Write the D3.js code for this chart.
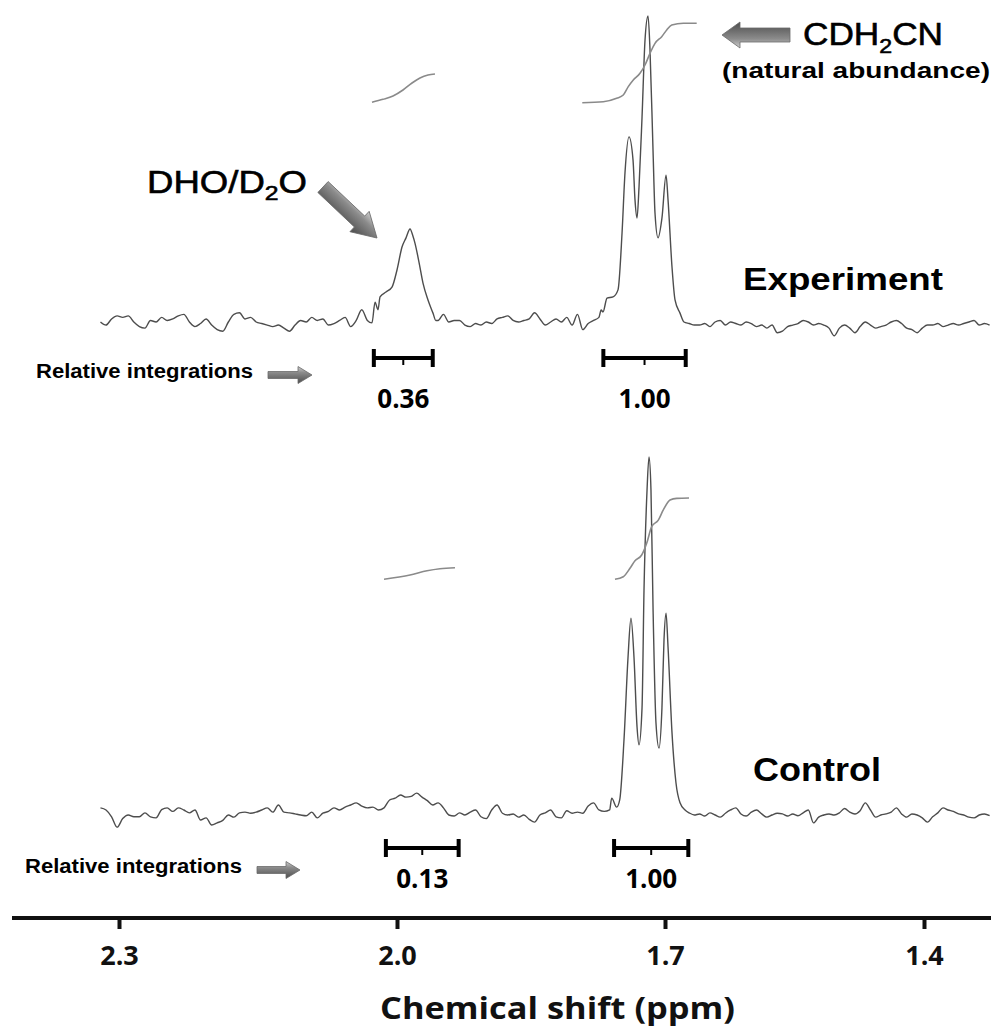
<!DOCTYPE html>
<html>
<head>
<meta charset="utf-8">
<script src="https://cdn.jsdelivr.net/npm/d3@7"></script>
<style>
  body { margin: 0; background: #fff; }
  svg { display: block; }
</style>
</head>
<body>
<script>
// ppm grid of the raw baseline traces
var ppmStart = 2.32, ppmStep = 0.006;

var axisTicks = [2.3, 2.0, 1.7, 1.4];

// experiment baseline (intensity, tallest peak = 100)
var expNoise = [0, -1, 1, 2, 1.5, 2, 0, -1.5, -2, 0.5, 0, 1.5, 0.5, 1, 2, 2.5, 0, -1.5, -0.5, 1,
  -1, -2.5, -3, 0, 2.5, 3, 1, 1.5, 0, -0.5, -1, -1.5, -1, -2, -3, -1, 0.5, 0, 1.5, 0.5,
  1, -1, -0.5, 0.5, 1.5, -1.5, 0.5, 4, 0.5, 0, 0, 0, 0, 0, 0, 0, 0, 0, 0, 0,
  0, 0.5, 2.5, 0, 0.5, 0.5, -1, -1.5, -0.5, -1, 0, -0.5, 1, 1.5, 2, 0.5, 0, 0.5, 1, 3,
  1, -1, 0, 1, 0, 1.5, -1, 2.5, -2.5, -0.5, 0.5, 1.5, 0, 0, 0, 0, 0, 0, 0, 0,
  0, 0, 0, 0, 0, 0, 0, 0, -0.5, -1, -1, -0.5, -1.5, 0, 0.5, -1, 0, -0.5, -1, 0,
  -0.5, -1.5, -1, -2, -1, -3.5, -3, -1.5, -1, -0.5, 0.5, 0, -1, -0.5, -1, -2, -4.5, -2, -1, -2,
  -3.5, -1.5, 0, -1, -2, -1.5, -1, 0, 0.5, -0.5, -2, -2.5, -3.5, -2, -1, -1, -0.5, -1.5, -1, -0.5,
  -1, -0.5, 0, 0.5, -1, -0.5, -1];

var expDHO = [[2.027, -0.3], [2.0237, 6.5], [2.0205, 4], [2.0183, 8.2], [2.0119, 9.8], [2.0054, 11.4],
  [2.0, 17], [1.9944, 24.5], [1.9899, 27.5], [1.9854, 30.4], [1.9821, 28], [1.9799, 25.8],
  [1.9754, 19.6], [1.9709, 12.7], [1.9653, 7.2], [1.9597, 2.9], [1.9565, 0.5]];

var expCDH2CN = [[1.7715, 3.9], [1.7694, 3.3], [1.7649, 7.8], [1.7582, 8.2], [1.7526, 10.5], [1.7481, 29],
  [1.7448, 48.7], [1.7403, 60.5], [1.7358, 53], [1.7336, 40], [1.7313, 34], [1.7291, 44],
  [1.7257, 67], [1.7224, 92], [1.7190, 100], [1.7168, 89], [1.7134, 56], [1.7112, 35.6],
  [1.7078, 27.5], [1.7034, 34], [1.6988, 48], [1.6965, 40], [1.6919, 18], [1.6884, 7.2], [1.6826, 2.9]];

// control baseline
var ctlNoise = [2, 1.4, -0.5, -3.4, -1, 0, -0.5, -0.5, 0.6, -0.5, -0.8, 1.5, 2, 1, 2, 1.4, 0.6, 1.4, -1.4, -0.8,
  -2.8, -2.2, -1.5, 0, -0.6, 0.6, 0.8, 0.5, 0.8, 1.4, 2, 0.8, 2.8, 0.8, 0.6, 0.3, 0, -0.2, 0.8, -0.8,
  0.5, 1, 2, 1.4, 2.2, 2.8, 3.4, 2.5, 2, 2.2, 1.4, 2, 4.2, 4.7, 5.6, 5, 5.2, 6.1, 5, 4,
  2.8, 3.4, 2, 0, -0.3, 0.6, 0, 0.8, 1.4, -0.5, -1, 1.4, 2.8, 0.5, 0, 0.3, -0.6, 0, -1.2, -2,
  0, 0.6, 1.4, -0.5, -0.8, 1.2, 0.5, 0.8, 0.5, 2.5, 3.4, 1.4, 1, 1.4, 0, 0, 0, 0, 0, 0,
  0, 0, 0, 0, 0, 0, 0, 0, 0.6, 0, 0.3, -0.3, 0.6, 0, -0.6, 0.5, 1.4, 2, 0.3, -0.3,
  0.8, 1.4, 0.3, -0.6, 0, 0.5, 0.3, -0.3, 0.3, -0.2, 0.6, 1.4, -2.2, -0.6, 0, 0.3, 0, 0.6, 1.8, 0.8,
  0.3, 1.2, 3.4, 1.4, -0.6, 0, 0.3, 0.8, 2, 0.3, -0.6, 0.3, 0, -0.8, -2, -0.5, 0.6, 2, 1.4, 1,
  0.3, 0, -0.6, -0.8, 0, 0.3, -0.2];

var ctlCDH2CN = [[1.7597, 4.7], [1.7541, 2.2], [1.7507, 4.2], [1.7459, 21], [1.7414, 44], [1.7381, 55],
  [1.7347, 44], [1.7313, 24.6], [1.7291, 19.6], [1.7257, 30], [1.7235, 62.8], [1.7201, 90.8],
  [1.7179, 100], [1.7157, 90.8], [1.7134, 58], [1.7101, 25.7], [1.7067, 18.7], [1.7034, 30],
  [1.7011, 49], [1.6988, 56.4], [1.6965, 47], [1.6919, 23], [1.6873, 9], [1.6826, 3.4], [1.6768, 1.4]];

// integral curves (fraction of the CDH2CN integral)
var expIntDHO = [[2.027, 0.01], [2.0151, 0.046], [2.0043, 0.0875], [1.9933, 0.1625], [1.9832, 0.25],
  [1.9743, 0.3125], [1.9653, 0.35], [1.9575, 0.3625]];
var expIntCDH2CN = [[1.7926, 0.004], [1.7691, 0.016], [1.7541, 0.059], [1.7467, 0.1], [1.7411, 0.204],
  [1.7355, 0.2875], [1.7280, 0.371], [1.7224, 0.475], [1.7168, 0.621], [1.7112, 0.746],
  [1.7037, 0.829], [1.6980, 0.9125], [1.6922, 0.975], [1.6788, 0.996], [1.6633, 0.996]];
var ctlIntDHO = [[2.014, 0.009], [1.9854, 0.061], [1.9664, 0.113], [1.9519, 0.138], [1.9351, 0.15]];
var ctlIntCDH2CN = [[1.756, 0.009], [1.7467, 0.04], [1.7392, 0.143], [1.7336, 0.235], [1.7261, 0.305],
  [1.7205, 0.448], [1.7149, 0.65], [1.7075, 0.73], [1.7019, 0.854], [1.6942, 0.976],
  [1.6864, 0.996], [1.6722, 1.0]];

// integration ranges [from ppm, to ppm, relative value]
var expRanges = [[2.025, 1.960, "0.36"], [1.769, 1.676, "1.00"]];
var ctlRanges = [[2.012, 1.931, "0.13"], [1.757, 1.673, "1.00"]];

var W = 994, H = 1030;
var svg = d3.select("body").append("svg").attr("width", W).attr("height", H);

var defs = svg.append("defs");
var grad = defs.append("linearGradient").attr("id", "arrowGrad")
  .attr("x1", 0).attr("y1", 0).attr("x2", 0).attr("y2", 1);
grad.append("stop").attr("offset", "0%").attr("stop-color", "#d0d0d0");
grad.append("stop").attr("offset", "35%").attr("stop-color", "#8c8c8c");
grad.append("stop").attr("offset", "100%").attr("stop-color", "#4c4c4c");

// axis ticks are not evenly spaced in the figure, so piecewise scale
var x = d3.scaleLinear().domain(axisTicks).range([119, 397, 665, 924]);

var expY = d3.scaleLinear().domain([0, 100]).range([322, 16]);
var ctlY = d3.scaleLinear().domain([0, 100]).range([815, 457]);
var expIntY = d3.scaleLinear().domain([0, 1]).range([103, 23]);
var ctlIntY = d3.scaleLinear().domain([0, 1]).range([580, 498]);

function buildTrace(noise, peakLists){
  var pts = [];
  noise.forEach(function(v, i){
    var p = ppmStart - i*ppmStep;
    var inside = peakLists.some(function(pl){
      return p < pl[0][0] && p > pl[pl.length-1][0];
    });
    if (!inside) pts.push([p, v]);
  });
  peakLists.forEach(function(pl){ pts = pts.concat(pl); });
  pts.sort(function(a, b){ return b[0] - a[0]; });
  return pts;
}

function drawLine(data, yScale, color, width){
  var line = d3.line()
    .x(function(d){ return x(d[0]); })
    .y(function(d){ return yScale(d[1]); })
    .curve(d3.curveMonotoneX);
  svg.append("path")
    .datum(data)
    .attr("d", line)
    .attr("fill", "none")
    .attr("stroke", color)
    .attr("stroke-width", width)
    .attr("stroke-linejoin", "round");
}

function blockArrow(x1, y1, x2, y2, sw, hw, hl){
  var L = Math.sqrt((x2-x1)*(x2-x1) + (y2-y1)*(y2-y1));
  var ang = Math.atan2(y2-y1, x2-x1) * 180 / Math.PI;
  var p = [[0, -sw/2], [L-hl, -sw/2], [L-hl, -hw/2], [L, 0], [L-hl, hw/2], [L-hl, sw/2], [0, sw/2]];
  svg.append("polygon")
    .attr("points", p.map(function(d){ return d.join(","); }).join(" "))
    .attr("transform", "translate(" + x1 + "," + y1 + ") rotate(" + ang + ")")
    .attr("fill", "url(#arrowGrad)")
    .attr("stroke", "#6a6a6a")
    .attr("stroke-width", 0.8);
}

function drawRanges(ranges, barY, numY){
  ranges.forEach(function(r){
    var a = x(r[0]), b = x(r[1]), m = (a + b) / 2;
    var g = svg.append("g").attr("stroke", "#000");
    g.append("line").attr("x1", a).attr("x2", b).attr("y1", barY).attr("y2", barY).attr("stroke-width", 4);
    g.append("line").attr("x1", a).attr("x2", a).attr("y1", barY-9).attr("y2", barY+9).attr("stroke-width", 4);
    g.append("line").attr("x1", b).attr("x2", b).attr("y1", barY-9).attr("y2", barY+9).attr("stroke-width", 4);
    g.append("line").attr("x1", m).attr("x2", m).attr("y1", barY).attr("y2", barY+7).attr("stroke-width", 2);
    svg.append("text")
      .attr("x", m).attr("y", numY)
      .attr("text-anchor", "middle")
      .style("font-family", "'Open Sans', sans-serif")
      .style("font-weight", "bold")
      .style("font-size", "26px")
      .text(r[2]);
  });
}

// spectra
drawLine(buildTrace(expNoise, [expDHO, expCDH2CN]), expY, "#4d4d4d", 1.4);
drawLine(buildTrace(ctlNoise, [ctlCDH2CN]), ctlY, "#4d4d4d", 1.4);

// integrals
[expIntDHO, expIntCDH2CN].forEach(function(d){ drawLine(d, expIntY, "#8a8a8a", 1.6); });
[ctlIntDHO, ctlIntCDH2CN].forEach(function(d){ drawLine(d, ctlIntY, "#8a8a8a", 1.6); });

drawRanges(expRanges, 358, 408);
drawRanges(ctlRanges, 848, 888);

// labels
var sans = "'Liberation Sans', Arial, sans-serif";

var t1 = svg.append("text").attr("x", 803).attr("y", 45)
  .attr("textLength", 140).attr("lengthAdjust", "spacingAndGlyphs")
  .attr("stroke", "#000").attr("stroke-width", 0.6)
  .style("font-family", sans).style("font-size", "32px");
t1.append("tspan").text("CDH");
t1.append("tspan").attr("dy", 8).style("font-size", "21px").text("2");
t1.append("tspan").attr("dy", -8).text("CN");

svg.append("text").attr("x", 722).attr("y", 78)
  .attr("textLength", 268).attr("lengthAdjust", "spacingAndGlyphs")
  .style("font-family", sans).style("font-weight", "bold").style("font-size", "22px")
  .text("(natural abundance)");

var t2 = svg.append("text").attr("x", 147).attr("y", 193)
  .attr("textLength", 160).attr("lengthAdjust", "spacingAndGlyphs")
  .attr("stroke", "#000").attr("stroke-width", 0.6)
  .style("font-family", sans).style("font-size", "31px");
t2.append("tspan").text("DHO/D");
t2.append("tspan").attr("dy", 7).style("font-size", "21px").text("2");
t2.append("tspan").attr("dy", -7).text("O");

svg.append("text").attr("x", 743).attr("y", 290)
  .attr("textLength", 200).attr("lengthAdjust", "spacingAndGlyphs")
  .style("font-family", sans).style("font-weight", "bold").style("font-size", "32px")
  .text("Experiment");

svg.append("text").attr("x", 753).attr("y", 781)
  .attr("textLength", 128).attr("lengthAdjust", "spacingAndGlyphs")
  .style("font-family", sans).style("font-weight", "bold").style("font-size", "33px")
  .text("Control");

[[36, 378], [25, 873]].forEach(function(p){
  svg.append("text").attr("x", p[0]).attr("y", p[1])
    .attr("textLength", 217).attr("lengthAdjust", "spacingAndGlyphs")
    .style("font-family", sans).style("font-weight", "bold").style("font-size", "20px")
    .text("Relative integrations");
});

// arrows
blockArrow(323, 187, 377, 238, 15, 28, 24);
blockArrow(790, 35, 722, 35, 14, 26, 18);
blockArrow(268, 375, 312, 375, 7, 17, 14);
blockArrow(257, 870, 300, 870, 7, 17, 14);

// x axis
var axisY = 918;
svg.append("line")
  .attr("x1", 12).attr("x2", 991).attr("y1", axisY).attr("y2", axisY)
  .attr("stroke", "#111").attr("stroke-width", 4);

var ax = svg.append("g")
  .attr("transform", "translate(0," + axisY + ")")
  .call(d3.axisBottom(x).tickValues(axisTicks).tickFormat(d3.format(".1f")).tickSize(11));
ax.select(".domain").remove();
ax.selectAll(".tick line").attr("stroke", "#111").attr("stroke-width", 4);
ax.selectAll(".tick text")
  .attr("y", 47).attr("dy", 0)
  .attr("fill", "#111")
  .style("font-family", "'Open Sans', sans-serif")
  .style("font-weight", "bold")
  .style("font-size", "27px");

svg.append("text").attr("x", 380).attr("y", 1019)
  .attr("textLength", 355).attr("lengthAdjust", "spacingAndGlyphs")
  .style("font-family", "'Open Sans', sans-serif").style("font-weight", "bold").style("font-size", "30px")
  .attr("fill", "#111")
  .text("Chemical shift (ppm)");
</script>
</body>
</html>
